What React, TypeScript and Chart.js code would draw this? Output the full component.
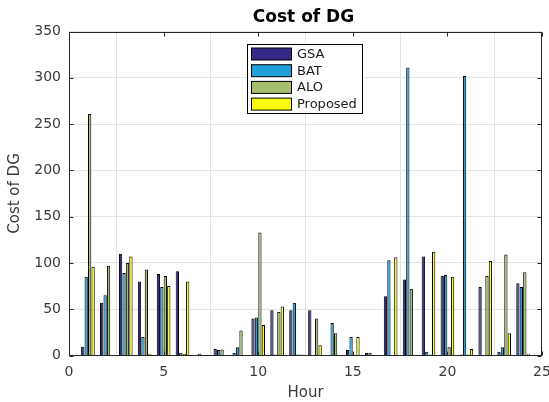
import React, { useEffect, useRef } from 'react';
import { Chart, registerables } from 'chart.js';

Chart.register(...registerables);

const hours = [1, 2, 3, 4, 5, 6, 7, 8, 9, 10, 11, 12, 13, 14, 15, 16, 17, 18, 19, 20, 21, 22, 23, 24];
const seriesNames = ['GSA', 'BAT', 'ALO', 'Proposed'];
const gsa = [9.5, 57, 110, 80, 88, 91, 0, 7, 3, 40, 49, 49, 49, 0, 6, 3, 64, 82, 107, 86, 1, 74, 4, 78];
const bat = [85, 65, 89, 20, 74, 3, 2, 6, 9, 41, 1, 57, 0, 35, 20, 3, 103, 311, 4, 87, 302, 0, 9, 74];
const alo = [261, 97, 100, 93, 86, 2, 0, 6.5, 27, 133, 47, 1, 40, 24, 0, 0, 0, 72, 1, 9, 1, 86, 109, 90];
const proposed = [96, 0, 107, 2, 75, 80, 0, 0, 0, 33, 53, 1, 11, 0, 20, 0, 106, 0, 112, 85, 7, 102, 24, 2];
const xTickValues = [0, 5, 10, 15, 20, 25];
const yTickValues = [0, 50, 100, 150, 200, 250, 300, 350];
const chartTitle = 'Cost of DG';
const xAxisTitle = 'Hour';
const yAxisTitle = 'Cost of DG';

const colors = ['#352a87', '#1fa0d8', '#a5be6b', '#f9fb0e'];
const FONT = "'DejaVu Sans', sans-serif";
const AXIS = '#262626';
const TEXT = '#3a3a3a';

const overlayPlugin = {
  id: 'overlay',
  afterDraw(chart: any) {
    const { ctx, chartArea: a, scales } = chart;
    ctx.save();
    ctx.strokeStyle = AXIS;
    ctx.lineWidth = 1;
    const L = Math.round(a.left) + 0.5;
    const R = Math.round(a.right) - 0.5;
    const T = Math.round(a.top) + 0.5;
    const B = Math.round(a.bottom) - 0.5;
    ctx.strokeRect(L, T, R - L, B - T);
    ctx.beginPath();
    xTickValues.forEach((v) => {
      const px = Math.round(scales.x.getPixelForValue(v)) + 0.5;
      ctx.moveTo(px, B);
      ctx.lineTo(px, B - 4);
      ctx.moveTo(px, T);
      ctx.lineTo(px, T + 4);
    });
    yTickValues.forEach((v) => {
      const py = Math.round(scales.y.getPixelForValue(v)) + 0.5;
      ctx.moveTo(L, py);
      ctx.lineTo(L + 4, py);
      ctx.moveTo(R, py);
      ctx.lineTo(R - 4, py);
    });
    ctx.stroke();

    ctx.fillStyle = '#000';
    ctx.font = `bold 17px ${FONT}`;
    ctx.textAlign = 'center';
    ctx.textBaseline = 'middle';
    ctx.fillText(chartTitle, (a.left + a.right) / 2 - 2, 18);

    const lx = 247.5, ly = 44.5, lw = 115, lh = 69;
    ctx.fillStyle = '#fff';
    ctx.fillRect(lx, ly, lw, lh);
    ctx.strokeStyle = '#000';
    ctx.strokeRect(lx, ly, lw, lh);
    ctx.font = `13px ${FONT}`;
    ctx.textAlign = 'left';
    seriesNames.forEach((name, i) => {
      const cy = 54 + i * 16.7;
      ctx.fillStyle = colors[i];
      ctx.fillRect(251.5, cy - 6, 40, 12);
      ctx.strokeStyle = '#000';
      ctx.strokeRect(251.5, cy - 6, 40, 12);
      ctx.fillStyle = '#1a1a1a';
      ctx.fillText(name, 297, cy + 0.5);
    });
    ctx.restore();
  },
};

export default function App() {
  const ref = useRef<HTMLCanvasElement>(null);
  useEffect(() => {
    if (!ref.current) return;
    const series = [gsa, bat, alo, proposed];
    const chart = new Chart(ref.current, {
      type: 'bar',
      data: {
        datasets: series.map((vals, i) => ({
          label: seriesNames[i],
          data: hours.map((h, j) => ({ x: h, y: vals[j] })),
          backgroundColor: colors[i],
          borderColor: '#000',
          borderWidth: 1,
          categoryPercentage: 0.73,
          barPercentage: 0.95,
        })),
      },
      options: {
        animation: false,
        responsive: false,
        devicePixelRatio: 1,
        layout: { padding: { top: 31.5, left: 0, right: 7, bottom: 0 } },
        plugins: {
          legend: { display: false },
          title: { display: false },
          tooltip: { enabled: false },
        },
        scales: {
          x: {
            type: 'linear',
            min: 0,
            max: 25,
            offset: false,
            afterBuildTicks: (s: any) => {
              s.ticks = xTickValues.map((v) => ({ value: v }));
            },
            afterFit: (s: any) => {
              s.height = 46.5;
              s.paddingLeft = 0;
              s.paddingRight = 0;
            },
            grid: { color: '#e3e3e3', drawTicks: false, lineWidth: 1 },
            border: { display: false },
            ticks: {
              color: TEXT,
              font: { family: FONT, size: 14 },
              padding: 8,
              maxRotation: 0,
              autoSkip: false,
            },
            title: {
              display: true,
              text: xAxisTitle,
              color: TEXT,
              font: { family: FONT, size: 15 },
              padding: { top: 0, bottom: 0 },
            },
          },
          y: {
            type: 'linear',
            min: 0,
            max: 350,
            afterBuildTicks: (s: any) => {
              s.ticks = yTickValues.map((v) => ({ value: v }));
            },
            afterFit: (s: any) => {
              s.width = 69;
              s.paddingTop = 0;
              s.paddingBottom = 0;
            },
            grid: { color: '#e3e3e3', drawTicks: false, lineWidth: 1 },
            border: { display: false },
            ticks: {
              color: TEXT,
              font: { family: FONT, size: 14 },
              padding: 8,
              autoSkip: false,
            },
            title: {
              display: true,
              text: yAxisTitle,
              color: TEXT,
              font: { family: FONT, size: 15 },
              padding: { top: 6, bottom: 0 },
            },
          },
        },
      },
      plugins: [overlayPlugin],
    } as any);
    return () => chart.destroy();
  }, []);
  return (
    <div style={{ position: 'absolute', left: 0, top: 0, width: 549, height: 402, background: '#fff' }}>
      <canvas ref={ref} width={549} height={402} style={{ display: 'block', width: 549, height: 402 }} />
    </div>
  );
}
